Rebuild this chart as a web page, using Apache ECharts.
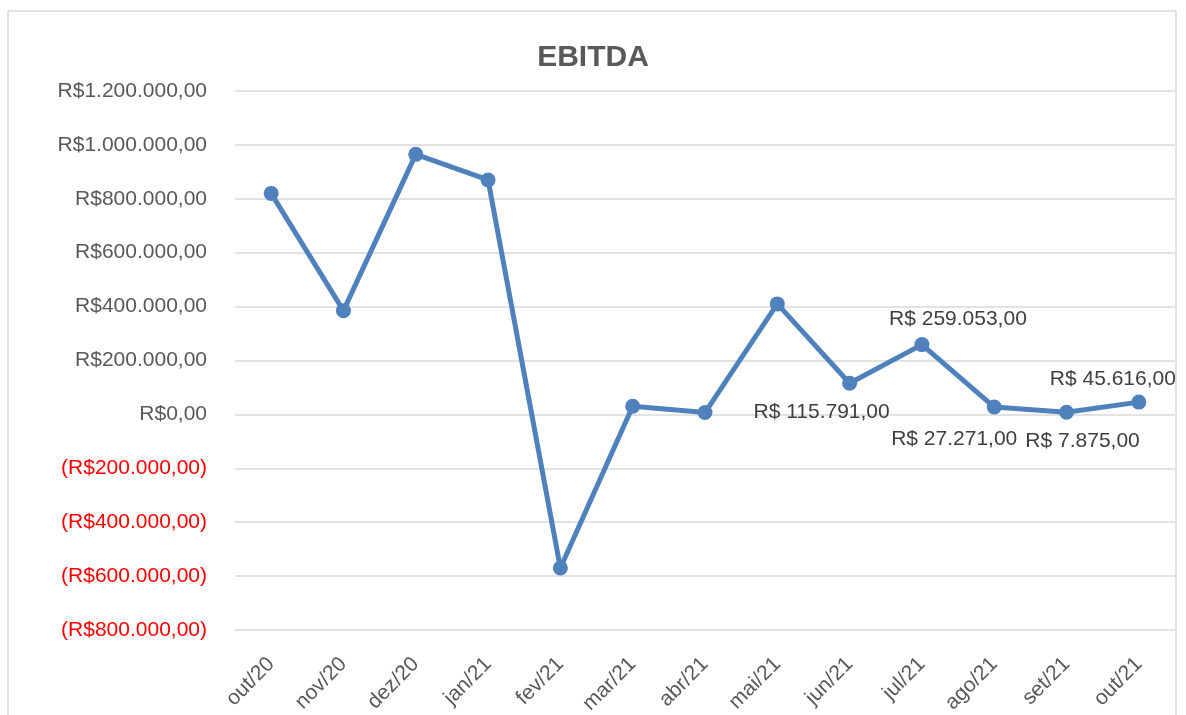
<!DOCTYPE html>
<html>
<head>
<meta charset="utf-8">
<script src="https://cdn.jsdelivr.net/npm/echarts@6/dist/echarts.min.js"></script>
<style>
  html, body { margin: 0; padding: 0; background: #fff; }
  #chart { width: 1186px; height: 715px; }
</style>
</head>
<body>
<div id="chart"></div>
<script>
// meses
var meses = ['out/20', 'nov/20', 'dez/20', 'jan/21', 'fev/21', 'mar/21', 'abr/21',
             'mai/21', 'jun/21', 'jul/21', 'ago/21', 'set/21', 'out/21'];
// EBITDA em R$
var ebitda = [820000, 385000, 965000, 870000, -570000, 30000, 7000,
              410000, 115791, 259053, 27271, 7875, 45616];
// escala do eixo y
var yMin = -800000;
var yMax = 1200000;
var yStep = 200000;

function fmtNum(v) {
    return String(Math.round(v)).replace(/\B(?=(\d{3})+(?!\d))/g, '.');
}
function fmtEixo(v) {
    if (v < 0) return '(R$' + fmtNum(-v) + ',00)';
    return 'R$' + fmtNum(v) + ',00';
}

// rótulos só nos últimos pontos
var rotulos = {
    8: { position: 'bottom', offset: [-28, 6] },
    9: { position: 'top', offset: [36, -2] },
    10: { position: 'bottom', offset: [-40, 9] },
    11: { position: 'bottom', offset: [16, 6] },
    12: { position: 'top', offset: [-26, 0] }
};

var pontos = ebitda.map(function (v, i) {
    var item = { value: v };
    if (rotulos[i]) {
        item.label = {
            show: true,
            position: rotulos[i].position,
            offset: rotulos[i].offset,
            formatter: function (p) { return 'R$ ' + fmtNum(p.value) + ',00'; }
        };
    }
    return item;
});

var myChart = echarts.init(document.getElementById('chart'));

var option = {
    backgroundColor: '#fff',
    textStyle: { fontFamily: 'Liberation Sans, Arial, sans-serif' },
    title: {
        text: 'EBITDA',
        left: 'center',
        top: 38,
        textStyle: { fontSize: 30, fontWeight: 'bold', color: '#595959' }
    },
    graphic: [{
        type: 'rect',
        shape: { x: 8, y: 11, width: 1168, height: 720 },
        style: { fill: 'none', stroke: '#d9d9d9', lineWidth: 1.5 },
        silent: true
    }],
    grid: { left: 235, right: 11, top: 91, bottom: 85, outerBoundsMode: 'none' },
    xAxis: {
        type: 'category',
        data: meses,
        boundaryGap: true,
        axisLine: { show: false },
        axisTick: { show: false },
        axisLabel: {
            rotate: 45,
            fontSize: 21,
            color: '#595959',
            margin: 31,
            interval: 0
        }
    },
    yAxis: {
        type: 'value',
        min: yMin,
        max: yMax,
        interval: yStep,
        axisLine: { show: false },
        axisTick: { show: false },
        splitLine: { lineStyle: { color: '#d9d9d9', width: 1.5 } },
        axisLabel: {
            fontSize: 21,
            margin: 28,
            formatter: fmtEixo,
            color: function (v) { return Number(v) < 0 ? '#ff0000' : '#595959'; }
        }
    },
    series: [{
        name: 'EBITDA',
        type: 'line',
        data: pontos,
        symbol: 'circle',
        symbolSize: 15,
        lineStyle: { color: '#4f81bd', width: 5 },
        itemStyle: { color: '#4f81bd' },
        label: { fontSize: 21, color: '#404040' },
        z: 3
    }]
};

myChart.setOption(option);
</script>
</body>
</html>
